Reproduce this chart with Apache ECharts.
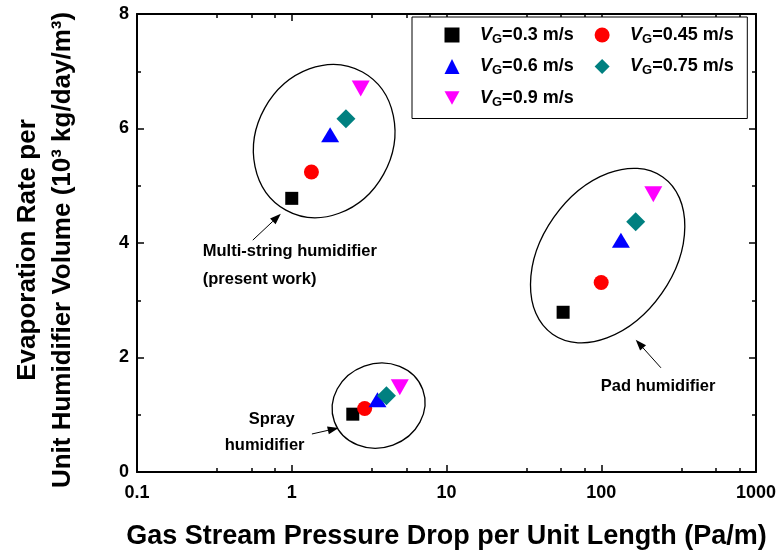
<!DOCTYPE html>
<html>
<head>
<meta charset="utf-8">
<script src="https://cdn.jsdelivr.net/npm/echarts@6/dist/echarts.min.js"></script>
<style>
  html, body { margin: 0; padding: 0; background: #ffffff; }
  #chart { width: 782px; height: 557px; }
</style>
</head>
<body>
<div id="chart"></div>
<script>
// Gas velocities (m/s), one scatter series each
const velocityLabels = ['0.3', '0.45', '0.6', '0.75', '0.9'];

// Pressure drop per unit length (Pa/m) and evaporation rate (10^3 kg/day/m^3)
const multiStringDrop = [1.00, 1.34, 1.77, 2.24, 2.79];
const multiStringEvap = [4.78, 5.24, 5.89, 6.17, 6.70];
const sprayDrop = [2.48, 2.96, 3.58, 4.09, 4.99];
const sprayEvap = [1.01, 1.11, 1.26, 1.33, 1.48];
const padDrop = [56.7, 99.9, 134, 167, 217];
const padEvap = [2.79, 3.31, 4.05, 4.37, 4.85];

// Axis ticks
const xMajorTicks = [0.1, 1, 10, 100, 1000];
const xMinorTicks = [0.33, 0.55, 0.78, 3.3, 5.5, 7.8, 33, 55, 78, 330, 550, 780];
const yTicks = [0, 2, 4, 6, 8];

// Group outlines (centres in data units) and callout arrows
const groupCentres = [[1.62, 5.78], [3.64, 1.16], [110, 3.78]];
const arrowTails = [[0.56, 4.05], [1.35, 0.664], [243, 1.82]];
const arrowHeads = [[0.85, 4.51], [2.01, 0.77], [167, 2.31]];
const calloutText = ['Multi-string humidifier', '(present work)', 'Spray', 'humidifier', 'Pad humidifier'];
const calloutAnchors = [[0.266, 3.85], [0.266, 3.37], [0.527, 0.91], [0.369, 0.47], [99.4, 1.50]];

const FONT = '"Liberation Sans", Arial, Helvetica, sans-serif';

const outlineShapes = [
  { rx: 79, ry: 68, angle: 61 },
  { rx: 47, ry: 42, angle: 20 },
  { rx: 96, ry: 66, angle: 55 }
];

const markerStyles = [
  { symbol: 'rect', size: 13, color: '#000000' },
  { symbol: 'circle', size: 15, color: '#ff0000' },
  { symbol: 'triangle', size: [18, 15], color: '#0000ff' },
  { symbol: 'diamond', size: [19, 19], color: '#008080' },
  { symbol: 'path://M0,0L18,0L9,16Z', size: [18, 16], color: '#ff00ff' }
];

const seriesNames = velocityLabels.map(v => 'VG=' + v + ' m/s');

const scatterSeries = velocityLabels.map((v, i) => ({
  name: seriesNames[i],
  type: 'scatter',
  xAxisIndex: 0,
  yAxisIndex: 0,
  symbol: markerStyles[i].symbol,
  symbolSize: markerStyles[i].size,
  itemStyle: { color: markerStyles[i].color, opacity: 1 },
  z: 5,
  data: [
    [multiStringDrop[i], multiStringEvap[i]],
    [sprayDrop[i], sprayEvap[i]],
    [padDrop[i], padEvap[i]]
  ]
}));

const outlineSeries = {
  type: 'custom',
  xAxisIndex: 0, yAxisIndex: 0,
  silent: true, z: 2,
  data: groupCentres,
  renderItem: function (params, api) {
    const p = api.coord([api.value(0), api.value(1)]);
    const s = outlineShapes[params.dataIndex];
    return {
      type: 'ellipse',
      x: p[0], y: p[1],
      rotation: s.angle * Math.PI / 180,
      shape: { cx: 0, cy: 0, rx: s.rx, ry: s.ry },
      style: { fill: 'none', stroke: '#000', lineWidth: 1.3 }
    };
  }
};

const arrowSeries = {
  type: 'custom',
  xAxisIndex: 0, yAxisIndex: 0,
  silent: true, z: 3,
  data: arrowTails.map((t, i) => [t[0], t[1], arrowHeads[i][0], arrowHeads[i][1]]),
  renderItem: function (params, api) {
    const a = api.coord([api.value(0), api.value(1)]);
    const b = api.coord([api.value(2), api.value(3)]);
    const dx = b[0] - a[0], dy = b[1] - a[1];
    const len = Math.sqrt(dx * dx + dy * dy);
    const ux = dx / len, uy = dy / len;
    const headLen = 11, headHalf = 4;
    const bx = b[0] - ux * headLen, by = b[1] - uy * headLen;
    return {
      type: 'group',
      children: [
        { type: 'line', shape: { x1: a[0], y1: a[1], x2: bx, y2: by },
          style: { stroke: '#000', lineWidth: 1 } },
        { type: 'polygon',
          shape: { points: [[b[0], b[1]], [bx - uy * headHalf, by + ux * headHalf], [bx + uy * headHalf, by - ux * headHalf]] },
          style: { fill: '#000' } }
      ]
    };
  }
};

const calloutSeries = {
  type: 'custom',
  xAxisIndex: 0, yAxisIndex: 0,
  silent: true, z: 4,
  data: calloutAnchors,
  renderItem: function (params, api) {
    const p = api.coord([api.value(0), api.value(1)]);
    return {
      type: 'text',
      x: p[0], y: p[1],
      style: {
        text: calloutText[params.dataIndex],
        fill: '#000',
        font: 'bold 16.5px ' + FONT,
        align: 'left',
        verticalAlign: 'middle'
      }
    };
  }
};

const tickLabelStyle = { fontSize: 18, fontWeight: 'bold', fontFamily: FONT, color: '#000' };
const frameLine = { show: true, lineStyle: { color: '#000', width: 2 } };
const majorTick = { show: true, inside: true, length: 7, lineStyle: { color: '#000', width: 1.5 } };

function minorXAxis(position) {
  return {
    type: 'log', logBase: 10, min: 0.1, max: 1000, position: position,
    axisLine: { show: false },
    axisTick: { show: true, inside: true, length: 4, customValues: xMinorTicks, lineStyle: { color: '#000', width: 1.5 } },
    axisLabel: { show: false },
    splitLine: { show: false }
  };
}

const chart = echarts.init(document.getElementById('chart'), null, { renderer: 'canvas' });
chart.setOption({
  animation: false,
  backgroundColor: '#ffffff',
  grid: { left: 137, top: 14, width: 619, height: 458, outerBoundsMode: 'none', containLabel: false },
  legend: {
    left: 412, top: 17, width: 345,
    orient: 'horizontal',
    padding: [9, 13.5, 10, 32.5],
    itemGap: 12,
    itemWidth: 15,
    itemHeight: 15,
    selectedMode: false,
    borderColor: '#000', borderWidth: 1, backgroundColor: '#fff',
    data: seriesNames,
    formatter: function (name) {
      const i = seriesNames.indexOf(name);
      return '{sp| }{v|V}{g|G}{t|=' + velocityLabels[i] + ' m/s}';
    },
    textStyle: {
      fontFamily: FONT,
      rich: {
        sp: { width: 15.5, fontSize: 18, lineHeight: 21 },
        v: { fontFamily: FONT, fontStyle: 'italic', fontWeight: 'bold', fontSize: 18, lineHeight: 21, color: '#000' },
        g: { fontFamily: FONT, fontWeight: 'bold', fontSize: 13, lineHeight: 8, verticalAlign: 'bottom', color: '#000' },
        t: { fontFamily: FONT, fontWeight: 'bold', fontSize: 18, lineHeight: 21, width: 80.5, color: '#000' }
      }
    }
  },
  xAxis: [
    {
      type: 'log', logBase: 10, min: 0.1, max: 1000, position: 'bottom',
      axisLine: frameLine,
      axisTick: Object.assign({ customValues: xMajorTicks }, majorTick),
      axisLabel: Object.assign({ margin: 12, customValues: xMajorTicks,
        formatter: v => String(+(+v).toPrecision(6)) }, tickLabelStyle),
      splitLine: { show: false },
      name: 'Gas Stream Pressure Drop per Unit Length (Pa/m)',
      nameLocation: 'middle',
      nameGap: 50,
      nameTextStyle: { fontSize: 27, fontWeight: 'bold', fontFamily: FONT, color: '#000', lineHeight: 30 }
    },
    minorXAxis('bottom'),
    {
      type: 'log', logBase: 10, min: 0.1, max: 1000, position: 'top',
      axisLine: frameLine,
      axisTick: Object.assign({ customValues: xMajorTicks }, majorTick),
      axisLabel: { show: false },
      splitLine: { show: false }
    },
    minorXAxis('top')
  ],
  yAxis: [
    {
      type: 'value', min: 0, max: 8, interval: 2, position: 'left',
      axisLine: frameLine,
      axisTick: majorTick,
      minorTick: { show: true, splitNumber: 2, length: 4, lineStyle: { color: '#000', width: 1.5 } },
      axisLabel: Object.assign({ margin: 8, customValues: yTicks }, tickLabelStyle),
      splitLine: { show: false },
      minorSplitLine: { show: false },
      name: 'Evaporation Rate per\nUnit Humidifier Volume (10³ kg/day/m³)',
      nameLocation: 'middle',
      nameRotate: 90,
      nameGap: 57,
      nameTextStyle: { fontSize: 26, fontWeight: 'bold', fontFamily: FONT, color: '#000', lineHeight: 35, padding: [0, 14, 0, 0] }
    },
    {
      type: 'value', min: 0, max: 8, interval: 2, position: 'right',
      axisLine: frameLine,
      axisTick: majorTick,
      minorTick: { show: true, splitNumber: 2, length: 4, lineStyle: { color: '#000', width: 1.5 } },
      axisLabel: { show: false },
      splitLine: { show: false },
      minorSplitLine: { show: false }
    }
  ],
  series: [outlineSeries, arrowSeries, calloutSeries].concat(scatterSeries)
});
</script>
</body>
</html>
